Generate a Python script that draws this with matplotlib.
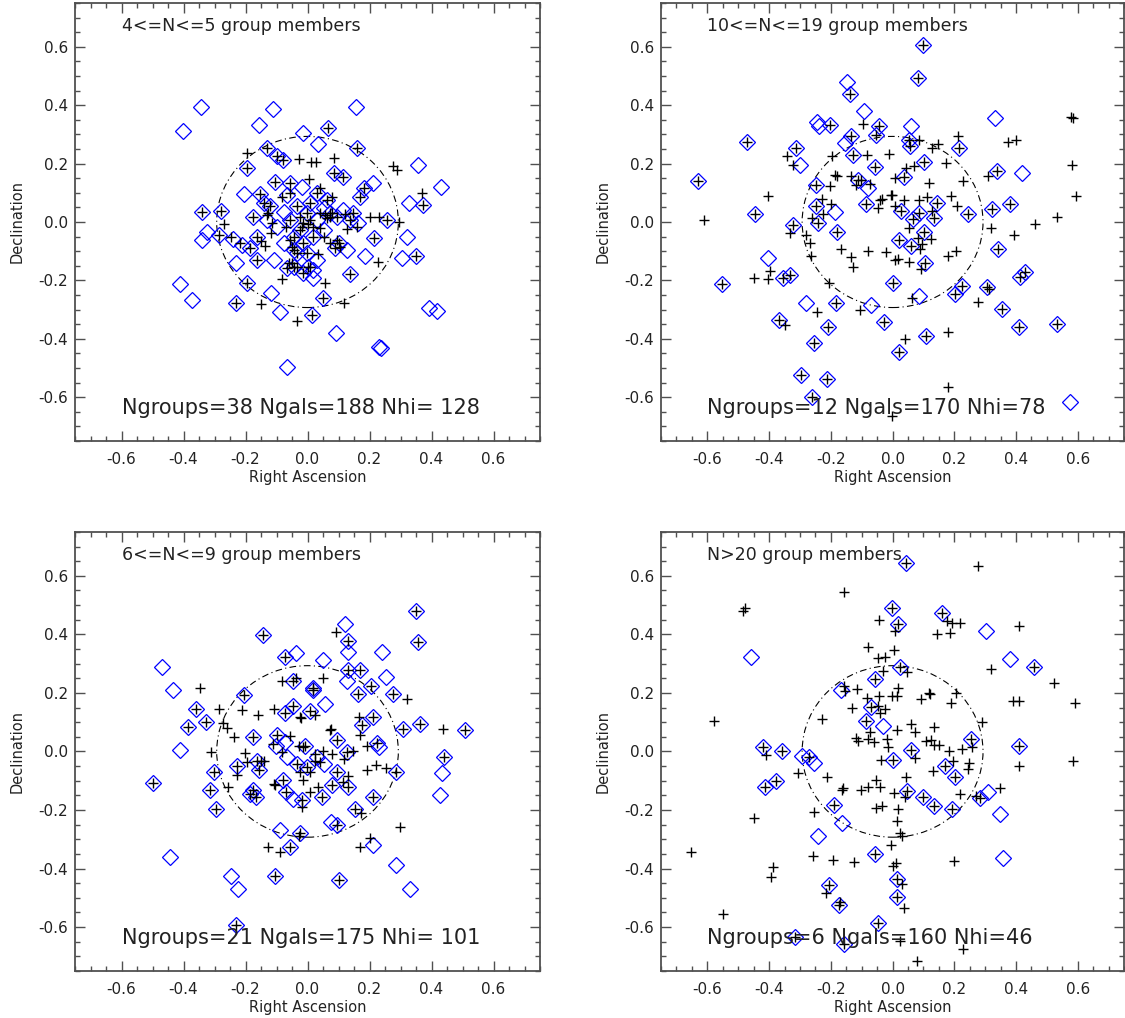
import matplotlib
matplotlib.use('Agg')
import matplotlib.pyplot as plt
from matplotlib.patches import Circle
from matplotlib.ticker import MultipleLocator, FormatStrFormatter

# galaxies that are both group members (+) and HI detections (diamond)
p1_both = [(0.066, 0.321), (-0.131, 0.255), (0.159, 0.255), (-0.080, 0.212), (-0.097, 0.226),
           (-0.196, 0.184), (0.084, 0.169), (0.114, 0.153), (-0.153, 0.095), (-0.104, 0.138),
           (-0.056, 0.132), (0.181, 0.115), (0.170, 0.087), (0.372, 0.058), (-0.339, 0.035),
           (-0.278, 0.039), (-0.176, 0.018), (-0.120, 0.053), (-0.034, 0.053), (0.009, 0.064),
           (0.095, 0.018), (0.148, 0.030), (0.256, 0.007), (-0.287, -0.045), (-0.163, -0.050),
           (-0.185, -0.090), (0.213, -0.056), (0.350, -0.115), (-0.163, -0.130), (-0.045, -0.050),
           (0.100, -0.073), (-0.034, -0.107), (0.003, -0.153), (-0.067, -0.159), (0.138, -0.178),
           (-0.196, -0.208), (0.049, -0.262), (-0.230, -0.276), (0.016, -0.319), (-0.002, 0.030),
           (0.073, 0.030), (-0.024, -0.027), (0.019, -0.050), (-0.056, 0.007), (-0.013, -0.073),
           (-0.045, -0.096), (-0.002, -0.107), (-0.045, -0.153), (-0.013, -0.176), (0.089, -0.090),
           (0.138, 0.007), (-0.142, 0.064), (0.030, 0.098), (0.062, 0.075)]
p1_hi_only = [(-0.343, 0.393), (-0.110, 0.386), (0.156, 0.395), (-0.403, 0.313), (-0.157, 0.332),
              (-0.015, 0.304), (0.035, 0.267), (0.358, 0.195), (0.431, 0.119), (0.211, 0.132),
              (-0.204, 0.095), (0.326, 0.064), (-0.077, 0.035), (0.052, 0.047), (0.164, -0.005),
              (-0.325, -0.033), (-0.341, -0.062), (-0.239, -0.059), (-0.212, -0.079), (0.320, -0.050),
              (0.186, -0.115), (0.304, -0.124), (-0.230, -0.142), (-0.108, -0.130), (0.127, -0.096),
              (0.019, -0.193), (-0.411, -0.212), (-0.373, -0.267), (-0.118, -0.244), (-0.090, -0.309),
              (0.092, -0.379), (0.393, -0.296), (0.419, -0.304), (0.232, -0.427), (0.238, -0.431),
              (-0.067, -0.496), (0.030, 0.007), (0.052, -0.027), (-0.099, -0.016), (-0.077, -0.073),
              (0.030, -0.130), (0.019, -0.164), (0.116, 0.041), (-0.131, 0.007), (-0.067, 0.093),
              (-0.018, 0.121)]
p1_gal_only = [(-0.196, 0.235), (-0.026, 0.216), (0.012, 0.204), (0.028, 0.207), (0.084, 0.218),
               (0.275, 0.190), (0.288, 0.178), (0.006, 0.148), (0.369, 0.100), (-0.056, 0.098),
               (0.041, 0.115), (0.078, 0.085), (0.202, 0.016), (0.232, 0.016), (0.294, -0.001),
               (-0.269, -0.007), (-0.246, -0.050), (-0.149, -0.064), (-0.137, -0.081), (-0.118, -0.039),
               (-0.069, -0.016), (-0.013, -0.002), (0.000, -0.007), (0.073, 0.018), (0.122, 0.027),
               (0.127, -0.024), (0.227, -0.136), (0.033, -0.110), (0.073, -0.073), (-0.083, -0.196),
               (0.057, -0.210), (-0.151, -0.281), (0.119, -0.276), (-0.034, -0.338), (-0.131, 0.024),
               (-0.126, 0.030), (-0.083, 0.087), (-0.024, 0.018), (-0.018, -0.016), (0.009, 0.007),
               (0.019, -0.016), (0.041, 0.030), (0.057, 0.024), (0.062, 0.013), (0.078, 0.030),
               (0.041, -0.022), (-0.056, -0.062), (-0.051, -0.085), (-0.061, -0.142), (-0.051, -0.142),
               (-0.034, -0.153), (0.009, -0.153), (0.095, -0.062), (0.105, -0.085), (-0.115, -0.005),
               (-0.217, -0.073), (0.159, -0.016), (0.052, -0.050)]

p2_both = [(0.100, 0.606), (0.083, 0.494), (-0.137, 0.439), (-0.204, 0.333), (-0.043, 0.329),
           (-0.054, 0.299), (-0.134, 0.293), (0.052, 0.282), (0.056, 0.261), (-0.470, 0.274),
           (-0.312, 0.253), (-0.129, 0.230), (0.102, 0.204), (0.215, 0.253), (-0.056, 0.188),
           (0.038, 0.153), (0.339, 0.174), (-0.630, 0.140), (-0.249, 0.125), (-0.113, 0.145),
           (-0.086, 0.060), (-0.247, 0.054), (-0.242, -0.003), (-0.446, 0.026), (-0.323, -0.009),
           (-0.181, -0.035), (0.027, 0.037), (0.086, 0.031), (0.065, 0.009), (0.134, 0.014),
           (0.145, 0.065), (0.245, 0.026), (0.323, 0.043), (0.380, 0.063), (0.102, -0.035),
           (0.022, -0.062), (0.059, -0.083), (0.105, -0.142), (0.342, -0.094), (-0.355, -0.191),
           (-0.333, -0.183), (-0.554, -0.213), (0.000, -0.210), (0.224, -0.219), (0.202, -0.248),
           (0.306, -0.221), (0.414, -0.187), (0.428, -0.171), (-0.183, -0.276), (0.353, -0.299),
           (-0.368, -0.335), (-0.210, -0.358), (-0.029, -0.342), (0.409, -0.361), (0.532, -0.350),
           (-0.255, -0.413), (0.108, -0.390), (0.022, -0.444), (-0.298, -0.523), (-0.212, -0.536),
           (-0.260, -0.600)]
p2_hi_only = [(-0.147, 0.479), (-0.094, 0.381), (-0.244, 0.344), (-0.239, 0.327), (0.059, 0.329),
              (0.331, 0.356), (-0.301, 0.196), (-0.153, 0.270), (0.419, 0.166), (-0.081, 0.117),
              (-0.188, 0.034), (-0.403, -0.122), (0.084, -0.253), (-0.070, -0.285), (-0.280, -0.278),
              (0.575, -0.615)]
p2_gal_only = [(0.578, 0.359), (0.583, 0.356), (0.374, 0.274), (0.401, 0.282), (0.581, 0.194),
               (0.594, 0.088), (0.532, 0.018), (0.460, -0.006), (0.392, -0.046), (0.320, -0.020),
               (0.310, 0.157), (0.229, 0.139), (0.172, 0.202), (0.148, 0.268), (0.127, 0.253),
               (0.213, 0.293), (0.084, 0.282), (0.118, 0.134), (0.188, 0.090), (0.210, 0.054),
               (0.111, 0.086), (0.086, 0.075), (0.038, 0.075), (0.008, 0.054), (-0.002, 0.094),
               (-0.034, 0.079), (-0.046, 0.048), (-0.013, 0.234), (-0.083, 0.230), (-0.097, 0.335),
               (-0.196, 0.225), (-0.188, 0.162), (-0.179, 0.159), (-0.204, 0.122), (-0.134, 0.156),
               (-0.120, 0.126), (-0.102, 0.145), (-0.072, 0.130), (0.008, 0.149), (0.045, 0.185),
               (0.070, 0.191), (-0.040, 0.075), (-0.005, 0.092), (-0.342, 0.225), (-0.322, 0.196),
               (-0.403, 0.088), (-0.611, 0.006), (-0.201, 0.060), (-0.228, 0.077), (-0.260, 0.012),
               (-0.226, 0.026), (-0.331, -0.039), (-0.282, -0.046), (-0.267, -0.071), (-0.263, -0.117),
               (-0.167, -0.094), (-0.134, -0.120), (-0.127, -0.153), (-0.081, -0.100), (-0.022, -0.102),
               (0.009, -0.130), (0.019, -0.126), (0.052, -0.137), (0.091, -0.162), (0.089, -0.092),
               (0.081, -0.054), (0.126, -0.058), (0.095, -0.077), (0.054, -0.020), (0.129, 0.037),
               (0.181, -0.117), (0.206, -0.100), (-0.449, -0.191), (-0.403, -0.194), (-0.398, -0.168),
               (-0.206, -0.208), (-0.245, -0.308), (-0.104, -0.301), (-0.349, -0.353), (0.062, -0.262),
               (0.277, -0.274), (0.312, -0.230), (0.041, -0.401), (0.181, -0.376), (0.181, -0.566),
               (-0.003, -0.663)]

p3_both = [(0.350, 0.479), (0.355, 0.373), (-0.145, 0.398), (0.129, 0.379), (-0.072, 0.322),
           (0.132, 0.277), (0.170, 0.277), (0.204, 0.222), (0.162, 0.195), (0.277, 0.197),
           (-0.048, 0.242), (0.019, 0.217), (0.017, 0.211), (-0.206, 0.193), (-0.360, 0.146),
           (-0.327, 0.100), (-0.387, 0.083), (-0.048, 0.154), (-0.072, 0.131), (0.009, 0.138),
           (0.210, 0.119), (0.175, 0.089), (0.307, 0.077), (0.363, 0.094), (0.508, 0.072),
           (-0.176, 0.049), (-0.097, 0.055), (-0.008, 0.017), (0.095, 0.040), (0.127, -0.002),
           (0.224, 0.028), (0.286, -0.071), (0.439, -0.019), (-0.500, -0.107), (-0.303, -0.071),
           (-0.314, -0.131), (-0.295, -0.196), (-0.228, -0.051), (-0.163, -0.031), (-0.158, -0.065),
           (-0.176, -0.133), (-0.166, -0.156), (-0.185, -0.147), (-0.080, -0.099), (-0.069, -0.139),
           (-0.018, -0.165), (0.046, -0.156), (0.078, -0.116), (0.095, -0.071), (0.132, -0.122),
           (0.210, -0.156), (0.153, -0.196), (-0.034, -0.042), (-0.002, -0.053), (-0.023, -0.279),
           (-0.058, -0.327), (0.095, -0.253), (-0.106, -0.426), (0.100, -0.438), (-0.230, -0.594)]
p3_hi_only = [(0.121, 0.436), (0.129, 0.339), (0.240, 0.341), (-0.468, 0.288), (-0.435, 0.211),
              (-0.038, 0.336), (0.049, 0.313), (0.127, 0.242), (0.253, 0.256), (0.057, 0.163),
              (-0.411, 0.006), (-0.102, 0.020), (-0.072, 0.032), (0.232, 0.015), (0.434, -0.074),
              (0.426, -0.150), (-0.047, -0.162), (-0.067, -0.019), (0.030, -0.019), (0.052, -0.042),
              (-0.088, -0.270), (0.076, -0.241), (0.211, -0.321), (-0.445, -0.361), (0.285, -0.387),
              (-0.247, -0.426), (-0.225, -0.469), (0.331, -0.469)]
p3_gal_only = [(0.092, 0.407), (0.049, 0.251), (-0.083, 0.240), (-0.036, 0.251), (-0.346, 0.216),
               (-0.287, 0.146), (-0.210, 0.143), (-0.107, 0.146), (-0.160, 0.123), (-0.273, 0.098),
               (-0.260, 0.081), (-0.236, 0.049), (-0.312, -0.002), (-0.201, -0.006), (-0.195, -0.036),
               (-0.228, -0.082), (-0.150, -0.031), (-0.142, -0.031), (-0.255, -0.122), (-0.104, -0.116),
               (-0.108, -0.110), (-0.020, 0.115), (-0.024, 0.117), (0.024, 0.123), (-0.058, 0.052),
               (-0.110, 0.026), (-0.083, -0.002), (-0.029, 0.020), (-0.013, 0.015), (0.024, -0.008),
               (0.049, 0.003), (0.078, -0.008), (0.024, -0.031), (0.041, -0.036), (-0.024, -0.071),
               (0.009, -0.071), (-0.013, -0.099), (0.009, -0.139), (0.035, -0.122), (-0.018, -0.190),
               (0.073, 0.072), (0.076, 0.077), (0.170, 0.055), (0.165, 0.119), (0.191, 0.020),
               (0.148, 0.003), (0.119, -0.025), (0.191, -0.065), (0.221, -0.048), (0.254, -0.057),
               (0.129, -0.084), (0.116, -0.105), (0.172, -0.211), (0.200, -0.295), (0.169, -0.327),
               (0.299, -0.258), (0.320, 0.180), (0.437, 0.075), (-0.129, -0.327), (-0.088, -0.344),
               (-0.029, -0.290)]

p4_both = [(0.043, 0.643), (-0.002, 0.489), (0.016, 0.435), (0.161, 0.472), (0.457, 0.290),
           (0.025, 0.290), (-0.056, 0.247), (-0.070, 0.152), (-0.086, 0.105), (0.255, 0.042),
           (0.409, 0.019), (-0.419, 0.014), (-0.357, 0.000), (-0.271, -0.020), (0.059, 0.006),
           (0.000, -0.030), (0.169, -0.049), (0.202, -0.089), (-0.378, -0.100), (-0.414, -0.123),
           (0.046, -0.134), (0.097, -0.154), (0.135, -0.188), (0.191, -0.197), (0.282, -0.159),
           (-0.190, -0.182), (-0.056, -0.351), (0.014, -0.436), (0.014, -0.498), (-0.206, -0.455),
           (-0.175, -0.523), (-0.046, -0.587), (-0.315, -0.633), (-0.156, -0.658)]
p4_hi_only = [(0.304, 0.410), (-0.459, 0.323), (0.382, 0.315), (-0.167, 0.209), (-0.032, 0.088),
              (-0.292, -0.015), (-0.253, -0.038), (0.310, -0.137), (0.349, -0.214), (-0.164, -0.246),
              (-0.240, -0.288), (0.357, -0.364)]
p4_gal_only = [(0.277, 0.632), (-0.158, 0.543), (-0.484, 0.480), (-0.478, 0.489), (-0.045, 0.450),
               (0.009, 0.412), (0.145, 0.401), (0.186, 0.403), (0.175, 0.446), (0.191, 0.440),
               (0.220, 0.440), (0.409, 0.427), (-0.078, 0.358), (0.005, 0.346), (-0.046, 0.318),
               (-0.025, 0.323), (-0.030, 0.275), (0.046, 0.270), (0.320, 0.283), (0.524, 0.233),
               (-0.158, 0.225), (-0.153, 0.206), (-0.115, 0.215), (0.019, 0.216), (0.014, 0.188),
               (-0.003, 0.188), (-0.043, 0.190), (0.091, 0.179), (0.118, 0.201), (0.121, 0.196),
               (0.207, 0.198), (0.190, 0.164), (0.390, 0.173), (0.409, 0.173), (0.591, 0.165),
               (-0.132, 0.148), (-0.083, 0.182), (-0.046, 0.156), (-0.040, 0.130), (-0.024, 0.145),
               (-0.229, 0.110), (-0.577, 0.105), (0.290, 0.099), (0.061, 0.093), (0.073, 0.065),
               (0.014, 0.073), (0.134, 0.084), (-0.073, 0.065), (-0.120, 0.046), (-0.113, 0.036),
               (-0.081, 0.042), (-0.059, 0.031), (-0.018, 0.042), (-0.014, 0.014), (0.108, 0.036),
               (0.124, 0.039), (0.134, 0.022), (0.151, 0.023), (0.183, 0.002), (0.224, 0.010),
               (0.258, 0.014), (0.073, -0.024), (-0.038, -0.028), (0.197, -0.034), (0.249, -0.038),
               (0.245, -0.060), (0.132, -0.066), (0.409, -0.049), (0.586, -0.032), (-0.411, -0.011),
               (-0.306, -0.072), (-0.212, -0.086), (-0.161, -0.126), (-0.163, -0.132), (-0.102, -0.132),
               (-0.081, -0.123), (-0.054, -0.098), (-0.040, -0.121), (0.043, -0.086), (0.005, -0.143),
               (0.041, -0.157), (0.218, -0.146), (0.271, -0.151), (0.349, -0.126), (-0.054, -0.193),
               (-0.034, -0.188), (0.016, -0.197), (0.014, -0.239), (0.025, -0.277), (0.032, -0.290),
               (-0.005, -0.319), (-0.256, -0.208), (-0.449, -0.228), (-0.653, -0.345), (-0.387, -0.394),
               (-0.395, -0.430), (-0.258, -0.356), (-0.194, -0.370), (-0.126, -0.379), (0.000, -0.390),
               (0.011, -0.381), (0.199, -0.376), (0.032, -0.453), (-0.215, -0.485), (-0.169, -0.516),
               (0.038, -0.535), (-0.548, -0.555), (0.025, -0.646), (0.228, -0.675), (0.078, -0.717)]

titles = ['4<=N<=5 group members', '10<=N<=19 group members',
          '6<=N<=9 group members', 'N>20 group members']
counts = ['Ngroups=38 Ngals=188 Nhi= 128', 'Ngroups=12 Ngals=170 Nhi=78',
          'Ngroups=21 Ngals=175 Nhi= 101', 'Ngroups=6 Ngals=160 Nhi=46']
panels = [(p1_both, p1_hi_only, p1_gal_only), (p2_both, p2_hi_only, p2_gal_only),
          (p3_both, p3_hi_only, p3_gal_only), (p4_both, p4_hi_only, p4_gal_only)]

# axes boxes in figure fractions (left, bottom, width, height)
boxes = [(0.0667, 0.5668, 0.4133, 0.4303), (0.5876, 0.5668, 0.4116, 0.4303),
         (0.0667, 0.0462, 0.4133, 0.4313), (0.5876, 0.0462, 0.4116, 0.4313)]

axis_col = '#505050'
text_col = '#222222'

fig = plt.figure(figsize=(11.25, 10.18), dpi=100)

for i, (both, hi_only, gal_only) in enumerate(panels):
    ax = fig.add_axes(boxes[i])
    hi = both + hi_only
    gal = both + gal_only
    ax.plot([p[0] for p in hi], [p[1] for p in hi], 'D', mfc='none', mec='#0000ff',
            ms=8, mew=0.9, ls='none')
    ax.plot([p[0] for p in gal], [p[1] for p in gal], '+', color='black',
            ms=7.5, mew=1.0, ls='none')
    ax.add_patch(Circle((0, 0), 0.293, fill=False, color='black', lw=0.8,
                        ls=(0, (6, 3, 1, 3))))

    ax.set_xlim(-0.75, 0.75)
    ax.set_ylim(-0.75, 0.75)
    ax.xaxis.set_major_locator(MultipleLocator(0.2))
    ax.yaxis.set_major_locator(MultipleLocator(0.2))
    ax.xaxis.set_minor_locator(MultipleLocator(0.05))
    ax.yaxis.set_minor_locator(MultipleLocator(0.05))
    ax.xaxis.set_major_formatter(FormatStrFormatter('%.1f'))
    ax.yaxis.set_major_formatter(FormatStrFormatter('%.1f'))
    ax.tick_params(which='both', direction='in', top=True, right=True,
                   color=axis_col, labelcolor=text_col, labelsize=11)
    ax.tick_params(which='major', length=7, width=1.0)
    ax.tick_params(which='minor', length=3.5, width=1.0)
    ax.tick_params(axis='x', pad=8)
    ax.tick_params(axis='y', pad=5)
    for s in ax.spines.values():
        s.set_color(axis_col)
        s.set_linewidth(1.3)

    ax.set_xlabel('Right Ascension', fontsize=10.5, color=text_col, labelpad=2)
    ax.set_ylabel('Declination', fontsize=10.5, color=text_col, labelpad=10)

    ax.text(-0.6, 0.672, titles[i], fontsize=12.5, color=text_col, ha='left', va='center')
    ax.text(-0.6, -0.636, counts[i], fontsize=15, color=text_col, ha='left', va='center')

fig.savefig('out.png', dpi=100)
